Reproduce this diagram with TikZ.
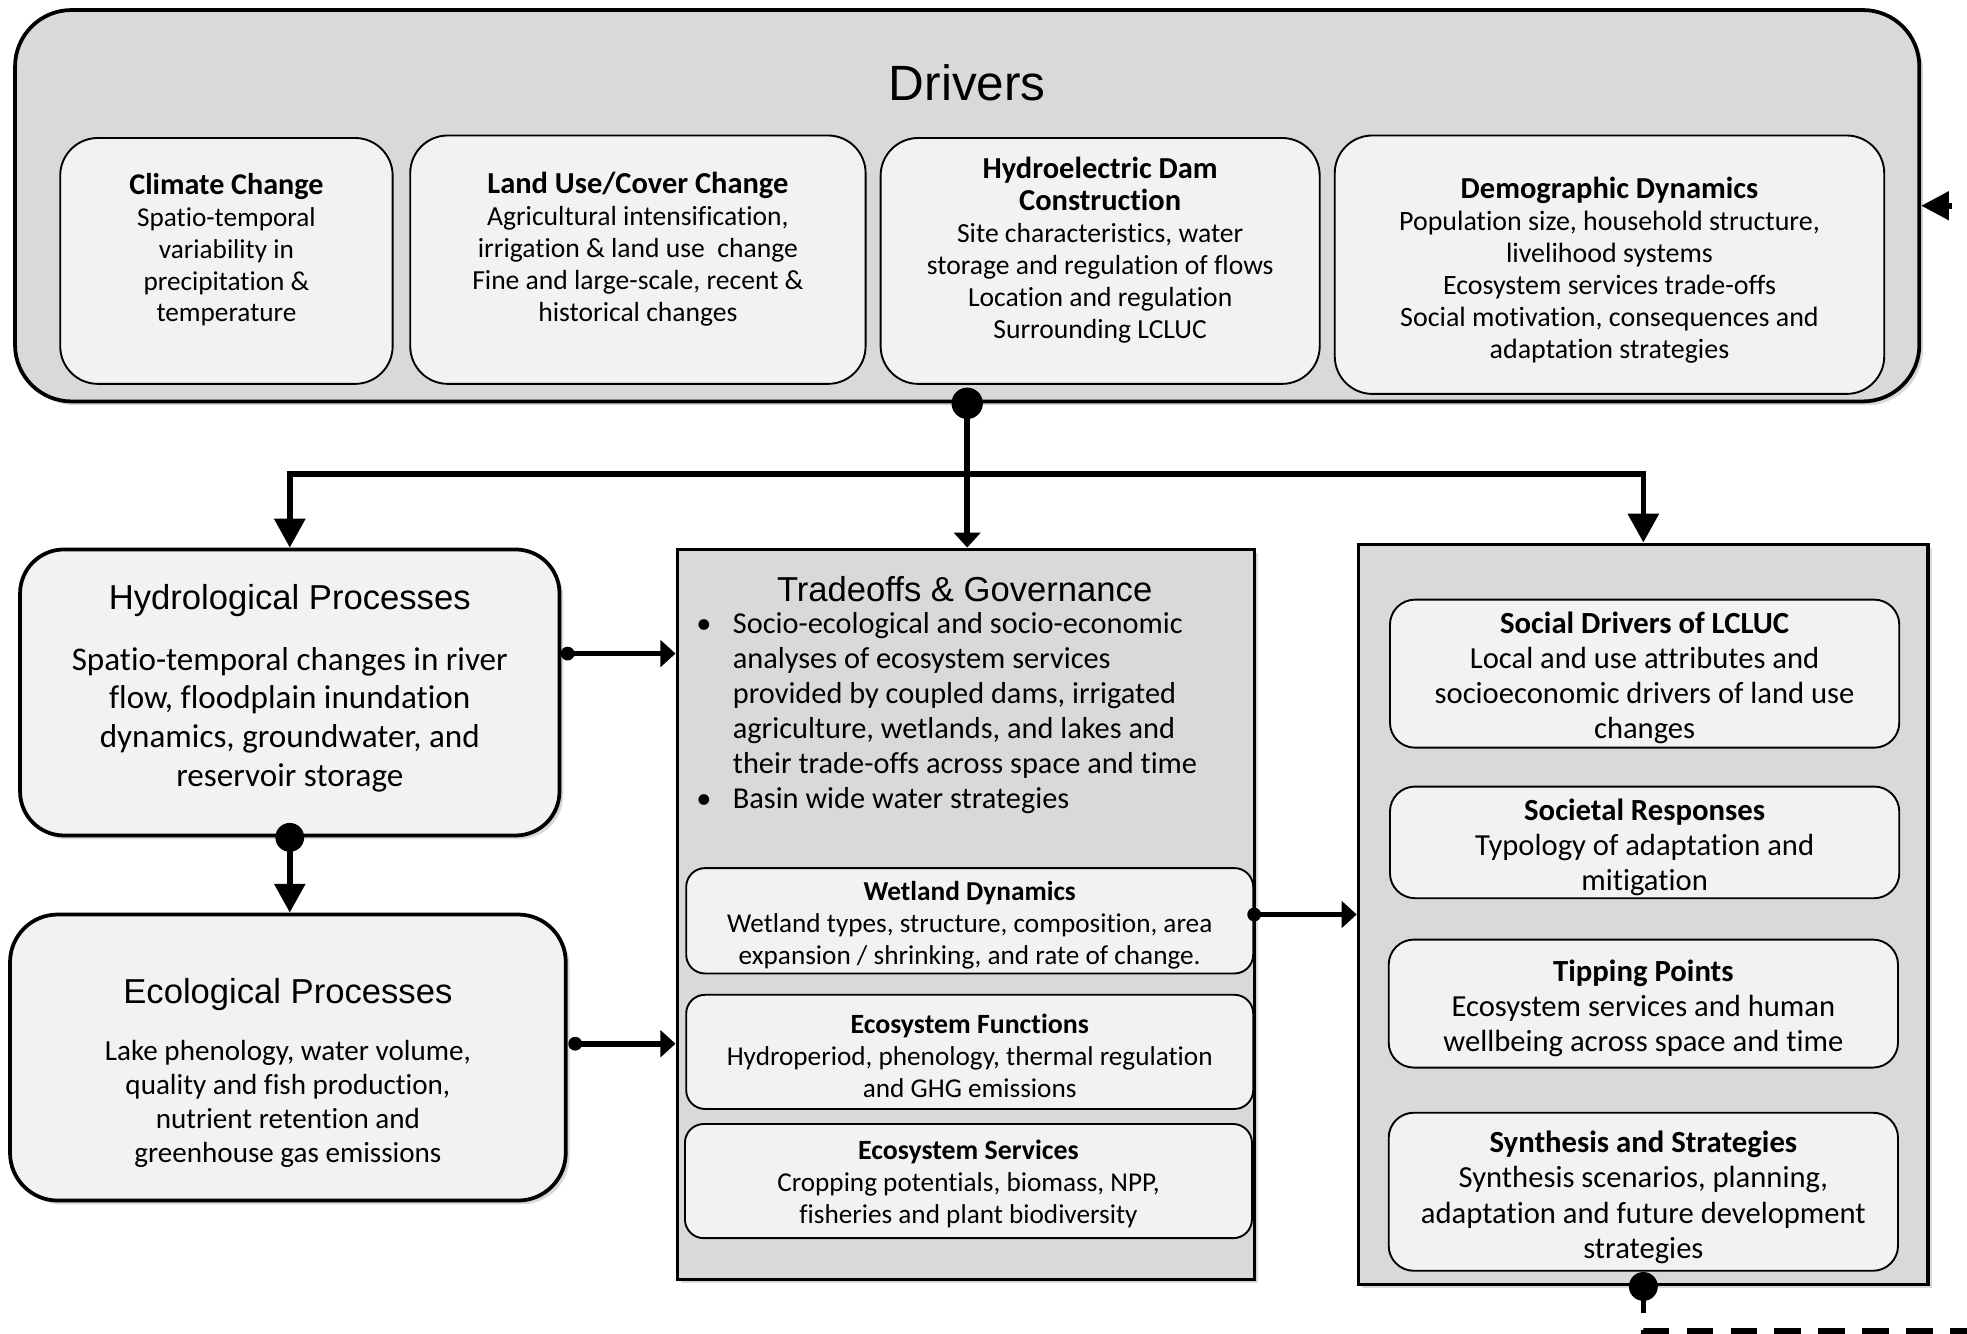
\documentclass[tikz,border=0pt]{standalone}
\usepackage{fontspec}
\setmainfont[Ligatures=NoCommon]{Carlito}
\newfontfamily\headfont{Liberation Sans}
\usetikzlibrary{arrows.meta,shadows}
\definecolor{outergray}{HTML}{D9D9D9}
\definecolor{innergray}{HTML}{F2F2F2}
\newcommand{\fsz}[2]{\fontsize{#1}{#2}\selectfont}
\begin{document}
\begin{tikzpicture}[x=1pt,y=-1pt,
  shad/.style={drop shadow={shadow xshift=3pt,shadow yshift=-3pt,opacity=0.3}},
  outerbox/.style={draw=black,line width=3pt,fill=outergray,inner sep=0pt,shad},
  procbox/.style={draw=black,line width=3pt,fill=innergray,inner sep=0pt,shad},
  innerbox/.style={draw=black,line width=1.5pt,fill=innergray,inner sep=0pt},
  txt/.style={align=center,inner sep=0pt,text=black},
  head/.style={inner sep=0pt,font=\headfont\fsz{27.6}{32}},
  conn/.style={line width=4.5pt,draw=black},
  bigarrow/.style={conn,-{Triangle[length=23pt,width=24pt]}},
  smallarrow/.style={conn,-{Triangle[length=12pt,width=21pt]}},
  fbline/.style={conn,dash pattern=on 21pt off 14pt},
]
\useasboundingbox (0,0) rectangle (1568,1063);

% ---------- Drivers ----------
\node[outerbox,rounded corners=45pt,minimum width=1518pt,minimum height=312pt] (drivers) at (771,164) {};
\node[inner sep=0pt,font=\headfont\fsz{39.5}{44}] (drivt) at (771,66) {Drivers};

\node[innerbox,rounded corners=30pt,minimum width=265pt,minimum height=196pt] (clim) at (180.5,208) {};
\node[txt,font=\fsz{21.7}{25.5}] (climt) at (180.5,199) {{\bfseries\fsz{24}{25.5}Climate Change}\\Spatio-temporal\\variability in\\precipitation \&\\temperature};

\node[innerbox,rounded corners=30pt,minimum width=363pt,minimum height=198pt] (land) at (508.5,207) {};
\node[txt,font=\fsz{22}{25.5}] (landt) at (508.5,198.5) {{\bfseries\fsz{24.3}{25.5}Land Use/Cover Change}\\Agricultural intensification,\\irrigation \& land use\ \ change\\Fine and large-scale, recent \&\\historical changes};

\node[innerbox,rounded corners=30pt,minimum width=350pt,minimum height=196pt] (dam) at (877,208) {};
\node[txt,font=\fsz{22}{25.5}] (damt) at (877,199.5) {{\bfseries\fsz{24.3}{27}Hydroelectric Dam}\\{\bfseries\fsz{24.3}{27}Construction}\\Site characteristics, water\\storage and regulation of flows\\Location and regulation\\Surrounding LCLUC};

\node[innerbox,rounded corners=30pt,minimum width=438pt,minimum height=206pt] (demo) at (1283,211) {};
\node[txt,font=\fsz{22.3}{25.5}] (demot) at (1283,215.5) {{\bfseries\fsz{24.3}{25.5}Demographic Dynamics}\\Population size, household structure,\\livelihood systems\\Ecosystem services trade-offs\\Social motivation, consequences and\\adaptation strategies};

% ---------- Hydrological / Ecological ----------
\node[procbox,rounded corners=35pt,minimum width=430pt,minimum height=228pt] (hydro) at (231,552) {};
\node[head] (hydrot) at (231,479) {Hydrological Processes};
\node[txt,font=\fsz{26.4}{30.8}] (hydrob) at (231,573.5) {Spatio-temporal changes in river\\flow, floodplain inundation\\dynamics, groundwater, and\\reservoir storage};

\node[procbox,rounded corners=38pt,minimum width=443pt,minimum height=228pt] (eco) at (229.5,843) {};
\node[head] (ecot) at (229.5,793) {Ecological Processes};
\node[txt,font=\fsz{23.2}{27}] (ecob) at (229.5,880) {Lake phenology, water volume,\\quality and fish production,\\nutrient retention and\\greenhouse gas emissions};

% ---------- Tradeoffs & Governance ----------
\node[outerbox,minimum width=460pt,minimum height=582pt] (trade) at (770,729) {};
\node[head] (tradet) at (769,470) {Tradeoffs \& Governance};
\node[inner sep=0pt,anchor=west,font=\fsz{24.2}{28}] (tradeb) at (555,569) {\begin{tabular}{@{}l@{}l@{}}
\makebox[29pt][l]{\textbullet} & Socio-ecological and socio-economic\\
 & analyses of ecosystem services\\
 & provided by coupled dams, irrigated\\
 & agriculture, wetlands, and lakes and\\
 & their trade-offs across space and time\\
\makebox[29pt][l]{\textbullet} & Basin wide water strategies
\end{tabular}};

\node[innerbox,rounded corners=15pt,minimum width=452pt,minimum height=84pt] (wet) at (773,734) {};
\node[txt,font=\fsz{21.7}{25.5}] (wett) at (773,737.5) {{\bfseries\fsz{21.8}{25.5}Wetland Dynamics}\\Wetland types, structure, composition, area\\expansion / shrinking, and rate of change.};

\node[innerbox,rounded corners=15pt,minimum width=452pt,minimum height=91pt] (efun) at (773,838.5) {};
\node[txt,font=\fsz{21.7}{25.5}] (efunt) at (773,842) {{\bfseries\fsz{22.2}{25.5}Ecosystem Functions}\\Hydroperiod, phenology, thermal regulation\\and GHG emissions};

\node[innerbox,rounded corners=15pt,minimum width=452pt,minimum height=91pt] (eser) at (772,941.5) {};
\node[txt,font=\fsz{21.7}{25.5}] (esert) at (772,944) {{\bfseries\fsz{22.2}{25.5}Ecosystem Services}\\Cropping potentials, biomass, NPP,\\fisheries and plant biodiversity};

% ---------- Right column ----------
\node[outerbox,minimum width=454pt,minimum height=590pt] (rbox) at (1310,729) {};

\node[innerbox,rounded corners=20pt,minimum width=406pt,minimum height=118pt] (soc) at (1311,537) {};
\node[txt,font=\fsz{24.4}{28}] (soct) at (1311,540.5) {{\bfseries\fsz{24.5}{28}Social Drivers of LCLUC}\\Local and use attributes and\\socioeconomic drivers of land use\\changes};

\node[innerbox,rounded corners=20pt,minimum width=406pt,minimum height=89pt] (resp) at (1311,671.5) {};
\node[txt,font=\fsz{24.4}{28}] (respt) at (1311,675.5) {{\bfseries\fsz{24.5}{28}Societal Responses}\\Typology of adaptation and\\mitigation};

\node[innerbox,rounded corners=20pt,minimum width=406pt,minimum height=102pt] (tip) at (1310,800) {};
\node[txt,font=\fsz{24.4}{28}] (tipt) at (1310,803.5) {{\bfseries\fsz{24.5}{28}Tipping Points}\\Ecosystem services and human\\wellbeing across space and time};

\node[innerbox,rounded corners=20pt,minimum width=406pt,minimum height=126pt] (syn) at (1310,950) {};
\node[txt,font=\fsz{24.4}{28}] (synt) at (1310,954.5) {{\bfseries\fsz{24.5}{28}Synthesis and Strategies}\\Synthesis scenarios, planning,\\adaptation and future development\\strategies};

% ---------- Connectors ----------
\coordinate (hj) at (771,378);
\draw[smallarrow] (drivers.south) -- (drivers.south |- trade.north);
\draw[bigarrow] (hj) -| (hydro.north);
\draw[bigarrow] (hj) -| (rbox.north);

\draw[bigarrow] (hydro.south) -- (hydro.south |- eco.north);

\path (hydro.east) ++(5,-31) coordinate (ha);
\path (eco.east) ++(6,-11) coordinate (ea);
\path (wet.east) ++(0,-5) coordinate (wa);
\draw[smallarrow] (ha) -- (ha -| trade.west);
\draw[smallarrow] (ea) -- (ea -| trade.west);
\draw[smallarrow] (wa) -- (wa -| rbox.west);

% feedback (dashed)
\coordinate (fb1) at (1310,1061);
\coordinate (fb2) at (1591,1061);
\coordinate (fb3) at (1591,164);
\draw[fbline] (rbox.south) -- (fb1) -- (fb2) -- (fb3);
\draw[fbline,-{Triangle[length=22pt,width=22pt]}] (fb3) -- (drivers.east);

% dots
\fill (drivers.south) circle (12.5pt);
\fill (hydro.south) circle (11.5pt);
\fill (rbox.south) circle (11.5pt);
\fill (ha) circle (5.5pt);
\fill (ea) circle (5.5pt);
\fill (wa) circle (5.5pt);
\end{tikzpicture}
\end{document}
